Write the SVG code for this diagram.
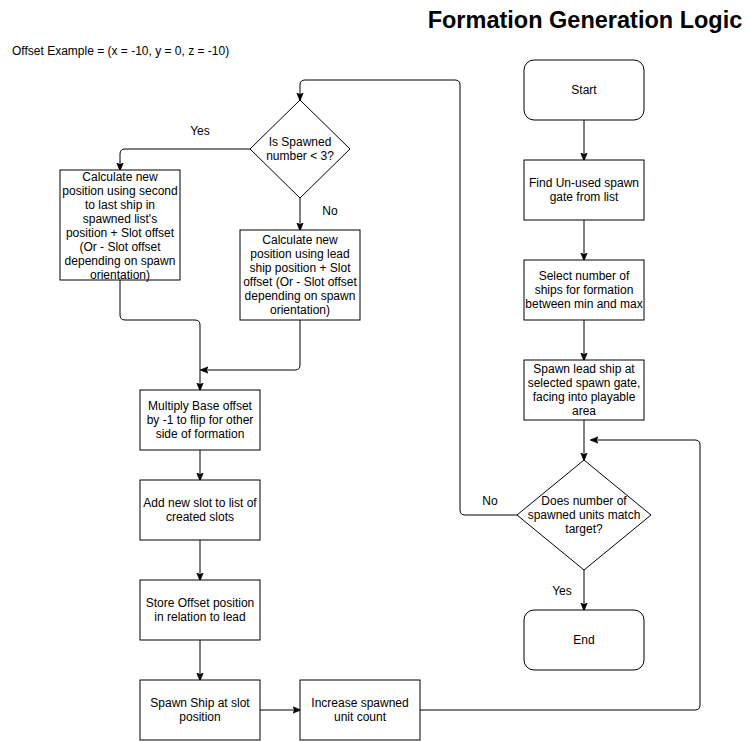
<svg xmlns="http://www.w3.org/2000/svg" width="750" height="741" viewBox="0 0 750 741">
<style>
.n{fill:#fff;stroke:#000;stroke-width:1}
.t{font-family:"Liberation Sans",Arial,sans-serif;font-size:12px;fill:#000;text-anchor:middle}
.c{fill:none;stroke:#000;stroke-width:1;marker-end:url(#a)}
</style>
<defs>
<marker id="a" viewBox="0 0 10 10" refX="9" refY="5" markerWidth="8" markerHeight="8" markerUnits="userSpaceOnUse" orient="auto">
<path d="M0,1 L10,5 L0,9 L2.5,5 Z" fill="#000" stroke="#000" stroke-width="1"/>
</marker>
</defs>
<rect width="750" height="741" fill="#fff"/>
<text x="585" y="28" style="font-family:'Liberation Sans',Arial,sans-serif;font-size:23.5px;font-weight:bold;text-anchor:middle">Formation Generation Logic</text>
<text x="12" y="55" style="font-family:'Liberation Sans',Arial,sans-serif;font-size:12px">Offset Example = (x = -10, y = 0, z = -10)</text>

<g id="connectors">
<path class="c" d="M584,120 V160"/>
<path class="c" d="M584,220 V260"/>
<path class="c" d="M584,320 V360"/>
<path class="c" d="M584,420 V460"/>
<path class="c" d="M584,570 V610"/>
<path class="c" d="M517,515 H465 Q460,515 460,510 V85 Q460,80 455,80 H305 Q300,80 300,85 V100"/>
<path class="c" d="M250,149 H125 Q120,149 120,154 V170"/>
<path class="c" d="M300,198 V230"/>
<path class="c" d="M120,280 V315 Q120,320 125,320 H195 Q200,320 200,325 V390"/>
<path class="c" d="M300,320 V365 Q300,370 295,370 H201"/>
<path class="c" d="M200,450 V480"/>
<path class="c" d="M200,540 V580"/>
<path class="c" d="M200,640 V680"/>
<path class="c" d="M260,710 H300"/>
<path class="c" d="M420,710 H695 Q700,710 700,705 V445 Q700,440 695,440 H591"/>
<text class="t" x="200" y="135">Yes</text>
<text class="t" x="330" y="215">No</text>
<text class="t" x="490" y="505">No</text>
<text class="t" x="562" y="595">Yes</text>
</g>

<g id="start"><rect class="n" x="524" y="60" width="120" height="60" rx="10"/><text class="t" x="584" y="94">Start</text></g>
<g id="find"><rect class="n" x="524" y="160" width="120" height="60"/><text class="t" x="584" y="187">Find Un-used spawn</text><text class="t" x="584" y="201">gate from list</text></g>
<g id="select"><rect class="n" x="524" y="260" width="120" height="60"/><text class="t" x="584" y="280">Select number of</text><text class="t" x="584" y="294">ships for formation</text><text class="t" x="584" y="308">between min and max</text></g>
<g id="spawnlead"><rect class="n" x="524" y="360" width="120" height="60"/><text class="t" x="584" y="373">Spawn lead ship at</text><text class="t" x="584" y="387">selected spawn gate,</text><text class="t" x="584" y="401">facing into playable</text><text class="t" x="584" y="415">area</text></g>
<g id="check"><path class="n" d="M584,460 L651,515 L584,570 L517,515 Z"/><text class="t" x="584" y="505">Does number of</text><text class="t" x="584" y="519">spawned units match</text><text class="t" x="584" y="533">target?</text></g>
<g id="end"><rect class="n" x="524" y="610" width="120" height="60" rx="10"/><text class="t" x="584" y="644">End</text></g>

<g id="isspawned"><path class="n" d="M300,100 L350,149 L300,198 L250,149 Z"/><text class="t" x="300" y="146">Is Spawned</text><text class="t" x="300" y="160">number &lt; 3?</text></g>
<g id="calcsecond"><rect class="n" x="60" y="170" width="120" height="110"/>
<text class="t" x="120" y="181">Calculate new</text>
<text class="t" x="120" y="195">position using second</text>
<text class="t" x="120" y="209">to last ship in</text>
<text class="t" x="120" y="223">spawned list's</text>
<text class="t" x="120" y="237">position + Slot offset</text>
<text class="t" x="120" y="251">(Or - Slot offset</text>
<text class="t" x="120" y="265">depending on spawn</text>
<text class="t" x="120" y="279">orientation)</text></g>
<g id="calclead"><rect class="n" x="240" y="230" width="120" height="90"/>
<text class="t" x="300" y="244">Calculate new</text>
<text class="t" x="300" y="258">position using lead</text>
<text class="t" x="300" y="272">ship position + Slot</text>
<text class="t" x="300" y="286">offset (Or - Slot offset</text>
<text class="t" x="300" y="300">depending on spawn</text>
<text class="t" x="300" y="314">orientation)</text></g>
<g id="multiply"><rect class="n" x="140" y="390" width="120" height="60"/><text class="t" x="200" y="410">Multiply Base offset</text><text class="t" x="200" y="424">by -1 to flip for other</text><text class="t" x="200" y="438">side of formation</text></g>
<g id="addslot"><rect class="n" x="140" y="480" width="120" height="60"/><text class="t" x="200" y="507">Add new slot to list of</text><text class="t" x="200" y="521">created slots</text></g>
<g id="store"><rect class="n" x="140" y="580" width="120" height="60"/><text class="t" x="200" y="607">Store Offset position</text><text class="t" x="200" y="621">in relation to lead</text></g>
<g id="spawnship"><rect class="n" x="140" y="680" width="120" height="60"/><text class="t" x="200" y="707">Spawn Ship at slot</text><text class="t" x="200" y="721">position</text></g>
<g id="increase"><rect class="n" x="300" y="680" width="120" height="60"/><text class="t" x="360" y="707">Increase spawned</text><text class="t" x="360" y="721">unit count</text></g>
</svg>
